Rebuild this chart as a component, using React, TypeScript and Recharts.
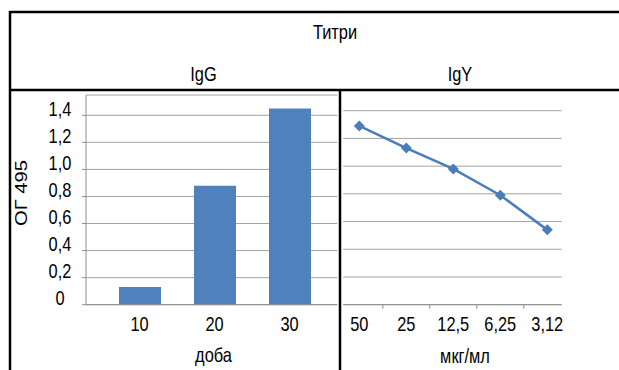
import React from 'react';
import {
  BarChart, Bar, LineChart, Line, XAxis, YAxis, CartesianGrid,
} from 'recharts';

// IgG: optical density by day
const days = ['10', '20', '30'];
const iggValues = [0.13, 0.88, 1.45];

// IgY: optical density by concentration, µg/ml
const concentrations = ['50', '25', '12,5', '6,25', '3,12'];
const igyValues = [1.29, 1.13, 0.98, 0.79, 0.54];

const yTicks = [0, 0.2, 0.4, 0.6, 0.8, 1.0, 1.2, 1.4];

const FONT = '"Liberation Sans", Arial, sans-serif';
const FS = 20;
const NARROW = 0.82; // condensed look of the labels
const GRID = '#a3a3a3';
const AXIS = '#8e8e8e';
const BLUE = '#4F81BD';
const LINE_BLUE = '#4A7EBB';

const iggData = days.map((d, i) => ({ day: d, od: iggValues[i] }));
const igyData = concentrations.map((c, i) => ({ conc: c, od: igyValues[i] }));

const fmt = (v: number) => (v === 0 ? '0' : v.toFixed(1).replace('.', ','));

// condensed text, centred on x with baseline at y
const NText = ({ x, y, children }: any) => (
  <text
    transform={`translate(${x},${y}) scale(${NARROW},1)`}
    textAnchor="middle"
    fill="#000"
    fontSize={FS}
    fontFamily={FONT}
  >
    {children}
  </text>
);

const YTick = ({ x, y, payload }: any) => <NText x={x} y={y + 0.5}>{fmt(payload.value)}</NText>;

const XTick = ({ x, y, payload }: any) => <NText x={x} y={y + 26}>{payload.value}</NText>;

// right chart: plot geometry (used for the between-category tick marks)
const R_PLOT_W = 218.4;
const R_PAD_L = 16;
const R_PAD_R = 14.4;
const R_HALF_STEP = (R_PLOT_W - R_PAD_L - R_PAD_R) / (concentrations.length - 1) / 2;

const XTickBetween = ({ x, y, payload, index }: any) => (
  <g>
    {index < concentrations.length - 1 && (
      <line x1={x + R_HALF_STEP} x2={x + R_HALF_STEP} y1={y} y2={y + 4} stroke={AXIS} strokeWidth={1} />
    )}
    <NText x={x} y={y + 26}>{payload.value}</NText>
  </g>
);

const Diamond = ({ cx, cy }: any) => (
  <polygon
    points={`${cx},${cy - 5.5} ${cx + 5.5},${cy} ${cx},${cy + 5.5} ${cx - 5.5},${cy}`}
    fill={LINE_BLUE}
  />
);

const axisTitle = (text: string, cx: number, cy: number) => () => <NText x={cx} y={cy}>{text}</NText>;

const yTitle = () => (
  <text
    x={21}
    y={104}
    transform="rotate(-90, 21, 104)"
    textAnchor="middle"
    dominantBaseline="central"
    fill="#000"
    fontSize={16}
    fontFamily={FONT}
    textLength={66}
    lengthAdjust="spacingAndGlyphs"
  >
    ОГ 495
  </text>
);

export default function App() {
  return (
    <div style={{ position: 'fixed', left: 0, top: 0, width: 619, height: 370, background: '#fff', overflow: 'hidden' }}>
      <div style={{ position: 'absolute', left: 0, top: 89 }}>
        <BarChart
          width={340}
          height={281}
          data={iggData}
          margin={{ top: 6, right: 2.7, bottom: 5.3, left: 26 }}
          barSize={42}
        >
          <CartesianGrid vertical={false} stroke={GRID} />
          <XAxis
            dataKey="day"
            height={60}
            padding={{ left: 16, right: 10.3 }}
            axisLine={{ stroke: AXIS }}
            tickLine={false}
            tickSize={0}
            tickMargin={0}
            tick={<XTick />}
            label={{ content: axisTitle('доба', 213.5, 272.7) }}
          />
          <YAxis
            width={60}
            domain={[0, 1.55]}
            ticks={yTicks}
            interval={0}
            axisLine={{ stroke: AXIS }}
            tickLine={{ stroke: AXIS }}
            tickSize={4}
            tickMargin={22}
            tick={<YTick />}
            label={{ content: yTitle }}
          />
          <Bar dataKey="od" fill={BLUE} isAnimationActive={false} />
        </BarChart>
      </div>

      <div style={{ position: 'absolute', left: 340, top: 89 }}>
        <LineChart
          width={279}
          height={281}
          data={igyData}
          margin={{ top: 21.7, right: 57.3, bottom: 5.3, left: 3.3 }}
        >
          <CartesianGrid vertical={false} stroke={GRID} />
          <XAxis
            dataKey="conc"
            height={60}
            padding={{ left: R_PAD_L, right: R_PAD_R }}
            axisLine={{ stroke: AXIS }}
            tickLine={false}
            tickSize={0}
            tickMargin={0}
            interval={0}
            tick={<XTickBetween />}
            label={{ content: axisTitle('мкг/мл', 125, 274) }}
          />
          <YAxis hide domain={[0, 1.4]} ticks={yTicks} />
          <Line
            dataKey="od"
            stroke={LINE_BLUE}
            strokeWidth={2.5}
            dot={<Diamond />}
            activeDot={false}
            isAnimationActive={false}
          />
        </LineChart>
      </div>

      <svg width={619} height={370} style={{ position: 'absolute', left: 0, top: 0, pointerEvents: 'none' }}>
        <g stroke="#000" strokeWidth={2.5} fill="none">
          <line x1={10} y1={12} x2={619} y2={12} />
          <line x1={10} y1={11} x2={10} y2={370} />
          <line x1={9} y1={90} x2={619} y2={90} />
          <line x1={340} y1={90} x2={340} y2={370} />
        </g>
        <NText x={335} y={39}>Титри</NText>
        <NText x={203.5} y={81}>IgG</NText>
        <NText x={460} y={81}>IgY</NText>
      </svg>
    </div>
  );
}
